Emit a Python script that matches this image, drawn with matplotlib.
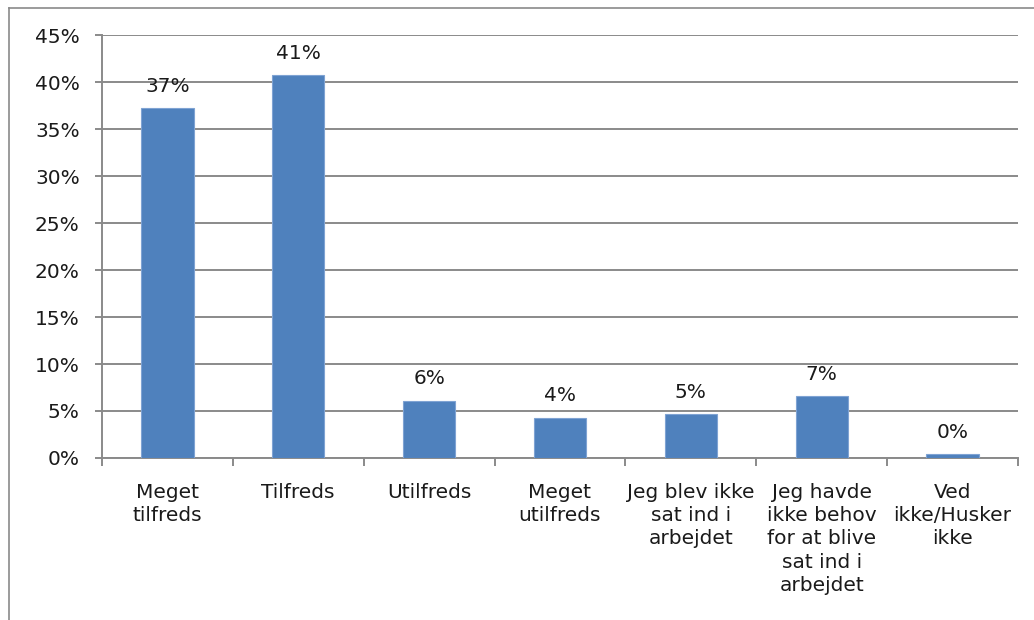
import numpy as np
import matplotlib.pyplot as plt
from matplotlib.lines import Line2D

# Svarkategorier og andele (%)
categories = [
    "Meget\ntilfreds",
    "Tilfreds",
    "Utilfreds",
    "Meget\nutilfreds",
    "Jeg blev ikke\nsat ind i\narbejdet",
    "Jeg havde\nikke behov\nfor at blive\nsat ind i\narbejdet",
    "Ved\nikke/Husker\nikke",
]
values = [37.2, 40.7, 6.1, 4.3, 4.7, 6.6, 0.4]
yticks = [0, 5, 10, 15, 20, 25, 30, 35, 40, 45]

plt.rcParams['font.family'] = ['DejaVu Sans']
grey = '#8a8a8a'
fs = 14.5

fig = plt.figure(figsize=(10.34, 6.2), dpi=100)
ax = fig.add_axes([0.0986, 0.2613, 0.8859, 0.6822])

x = np.arange(len(categories))
ax.bar(x, values, width=0.4, color='#4F81BD', edgecolor='#7FA3D3', linewidth=0.8, zorder=3)

# Dataetiketter over søjlerne
for xi, v in zip(x, values):
    ax.text(xi, v + 1.3, f"{v:.0f}%", ha='center', va='bottom', fontsize=fs, color='#1a1a1a')

ax.set_xlim(-0.5, len(categories) - 0.5)
ax.set_ylim(0, 45)
ax.set_yticks(yticks)
ax.set_yticklabels([f"{t}%" for t in yticks], fontsize=fs, color='#1a1a1a')
ax.yaxis.grid(True, color=grey, linewidth=1.4, zorder=0)
ax.tick_params(axis='y', length=5, width=1.4, color=grey, pad=11)

ax.set_xticks(x)
ax.set_xticklabels(categories, fontsize=fs, color='#1a1a1a', linespacing=1.28)
ax.set_xticks(np.arange(-0.5, len(categories)), minor=True)
ax.tick_params(axis='x', which='major', length=0, pad=18)
ax.tick_params(axis='x', which='minor', length=6, width=1.4, color=grey)

for side in ['top', 'right']:
    ax.spines[side].set_visible(False)
for side in ['left', 'bottom']:
    ax.spines[side].set_color(grey)
    ax.spines[side].set_linewidth(1.4)

# Ramme omkring diagramområdet
fig.add_artist(Line2D([0.0087, 1.0], [0.987, 0.987], color=grey, linewidth=1.2))
fig.add_artist(Line2D([0.0087, 0.0087], [0.0, 0.987], color=grey, linewidth=1.2))

fig.savefig('out.png', dpi=100)
